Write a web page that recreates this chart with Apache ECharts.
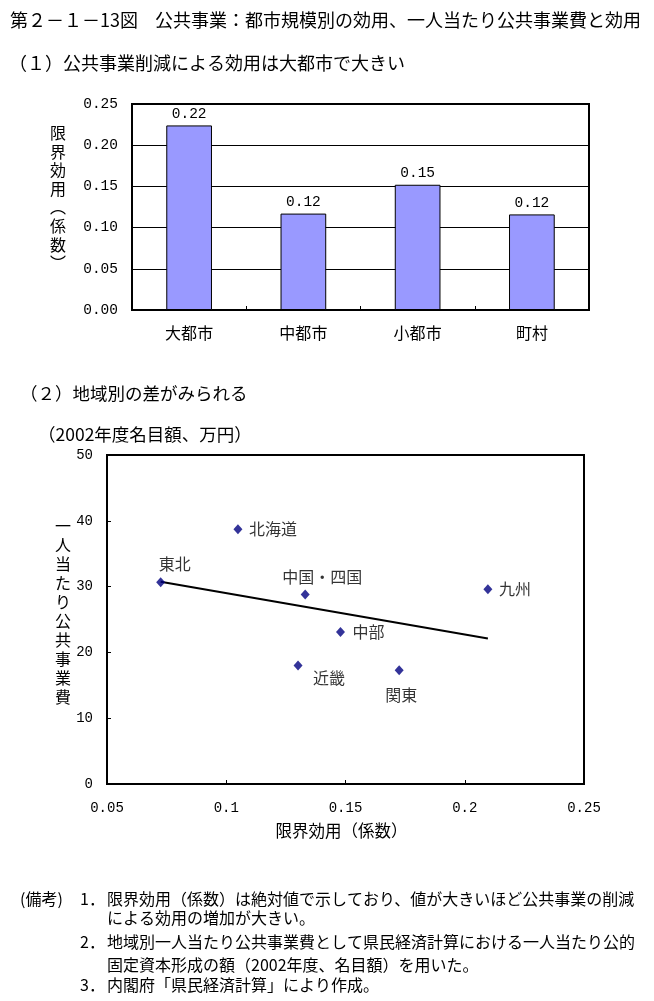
<!DOCTYPE html>
<html><head><meta charset="utf-8">
<script src="https://cdn.jsdelivr.net/npm/echarts@6/dist/echarts.min.js"></script>
<style>html,body{margin:0;padding:0;background:#fff}#c{width:654px;height:1001px}</style>
</head><body><div id="c"></div>
<script>
// ---- data ----
const barCategories = ['大都市', '中都市', '小都市', '町村'];
const barValues = [0.224, 0.117, 0.152, 0.116];
const regions = ['北海道', '東北', '中国・四国', '九州', '中部', '近畿', '関東'];
const regionUtility = [0.1049, 0.0725, 0.1331, 0.2097, 0.1479, 0.1301, 0.1725];
const regionSpending = [38.7, 30.65, 28.8, 29.6, 23.1, 18.0, 17.3];
const trendUtility = [0.0725, 0.2097];
const trendSpending = [30.75, 22.1];

const figNumText = '第２－１－13図';
const titleText = '公共事業：都市規模別の効用、一人当たり公共事業費と効用';
const sub1Text = '（１）公共事業削減による効用は大都市で大きい';
const sub2Text = '（２）地域別の差がみられる';
const unitText = '（2002年度名目額、万円）';
const barYName = '限界効用︵係数︶';
const scatYName = '一人当たり公共事業費';
const scatXName = '限界効用（係数）';

// ---- styles ----
const JP = "'Noto Sans CJK JP', sans-serif";
const NUM = "'Liberation Mono', monospace";
const labelPlace = {
  '北海道': {align: 'left', offset: [11, 0]},
  '九州': {align: 'left', offset: [11, 0]},
  '中部': {align: 'left', offset: [12, 0]},
  '東北': {align: 'left', offset: [-2, -18]},
  '中国・四国': {align: 'center', offset: [17, -18]},
  '近畿': {align: 'left', offset: [15, 12]},
  '関東': {align: 'center', offset: [2, 25]}
};

function txt(text, x, y, size, extra) {
  return {
    type: 'text',
    style: Object.assign({
      text: text, x: x, y: y, fontSize: size, fontFamily: JP, fill: '#000',
      textAlign: 'left', align: 'left', textVerticalAlign: 'middle', verticalAlign: 'middle'
    }, extra || {})
  };
}
function vtxt(text, x, y, size, lh) {
  return txt(text.split('').join('\n'), x, y, size,
    {textAlign: 'center', align: 'center', lineHeight: lh});
}

const chart = echarts.init(document.getElementById('c'), null, {renderer: 'canvas'});
chart.setOption({
  animation: false,
  backgroundColor: '#fff',
  grid: [
    {left: 132, top: 104, width: 457, height: 206, show: true, borderColor: '#000', borderWidth: 2, backgroundColor: 'transparent'},
    {left: 107, top: 455, width: 477, height: 329, show: true, borderColor: '#000', borderWidth: 2, backgroundColor: 'transparent'}
  ],
  xAxis: [
    {
      type: 'category', gridIndex: 0, data: barCategories,
      axisLine: {lineStyle: {color: '#000', width: 2}},
      axisTick: {show: true, inside: true, length: 4, lineStyle: {color: '#000'}},
      axisLabel: {color: '#000', fontSize: 16, fontFamily: JP, margin: 15}
    },
    {
      type: 'value', gridIndex: 1, min: 0.05, max: 0.25, interval: 0.05,
      axisLine: {show: true, lineStyle: {color: '#000', width: 2}},
      axisTick: {show: true, inside: true, length: 4, lineStyle: {color: '#000'}},
      splitLine: {show: false},
      axisLabel: {color: '#000', fontSize: 14, fontFamily: NUM, margin: 17,
        formatter: v => String(+v.toFixed(2))},
      name: scatXName, nameLocation: 'middle', nameGap: 38,
      nameTextStyle: {color: '#000', fontSize: 16.5, fontFamily: JP, padding: [0, 8, 0, 0]}
    }
  ],
  yAxis: [
    {
      type: 'value', gridIndex: 0, min: 0, max: 0.25, interval: 0.05,
      axisLine: {show: true, lineStyle: {color: '#000', width: 2}},
      axisTick: {show: false},
      splitLine: {show: true, lineStyle: {color: '#000', width: 1}},
      axisLabel: {color: '#000', fontSize: 14.5, fontFamily: NUM, margin: 14,
        formatter: v => v.toFixed(2)}
    },
    {
      type: 'value', gridIndex: 1, min: 0, max: 50, interval: 10,
      axisLine: {show: true, lineStyle: {color: '#000', width: 2}},
      axisTick: {show: true, inside: true, length: 4, lineStyle: {color: '#000'}},
      splitLine: {show: false},
      axisLabel: {color: '#000', fontSize: 14, fontFamily: NUM, margin: 14}
    }
  ],
  series: [
    {
      type: 'bar', xAxisIndex: 0, yAxisIndex: 0, data: barValues,
      barWidth: '40%',
      itemStyle: {color: '#9999ff', borderColor: '#000', borderWidth: 1},
      label: {show: true, position: 'top', distance: 4, color: '#000', fontSize: 14.5, fontFamily: NUM,
        formatter: p => p.value.toFixed(2)}
    },
    {
      type: 'line', xAxisIndex: 1, yAxisIndex: 1, z: 2,
      data: trendUtility.map((x, i) => [x, trendSpending[i]]),
      symbol: 'none', lineStyle: {color: '#000', width: 2}
    },
    {
      type: 'scatter', xAxisIndex: 1, yAxisIndex: 1, z: 3,
      symbol: 'diamond', symbolSize: [9, 10],
      itemStyle: {color: '#000080'},
      data: regions.map((r, i) => ({
        name: r, value: [regionUtility[i], regionSpending[i]],
        label: Object.assign({show: true, position: 'inside', verticalAlign: 'middle',
          formatter: r, color: '#000', fontSize: 16, fontFamily: JP}, labelPlace[r])
      }))
    }
  ],
  graphic: [
    txt(figNumText, 10, 20, 18),
    txt(titleText, 155, 20, 18),
    txt(sub1Text, 9, 63, 18),
    txt(sub2Text, 20, 393, 17.5),
    txt(unitText, 38, 434, 17.5),
    vtxt(barYName, 58, 198, 16, 18.6),
    vtxt(scatYName, 63, 611, 16, 19),
    txt('(備考)', 20, 899, 16),
    txt('1．', 80, 899, 16),
    txt('限界効用（係数）は絶対値で示しており、値が大きいほど公共事業の削減', 107, 899, 16),
    txt('による効用の増加が大きい。', 107, 918, 16),
    txt('2．', 80, 942, 16),
    txt('地域別一人当たり公共事業費として県民経済計算における一人当たり公的', 107, 942, 16),
    txt('固定資本形成の額（2002年度、名目額）を用いた。', 107, 965, 16),
    txt('3．', 80, 985, 16),
    txt('内閣府「県民経済計算」により作成。', 107, 985, 16)
  ]
});
</script>
</body></html>
